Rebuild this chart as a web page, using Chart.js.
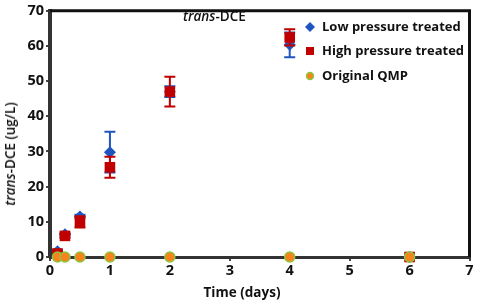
<!DOCTYPE html>
<html>
<head>
<meta charset="utf-8">
<script src="https://cdn.jsdelivr.net/npm/chart.js@4"></script>
<style>
  body { margin: 0; background: #fff; }
  #wrap { position: relative; width: 477px; height: 302px; font-family: "Open Sans", sans-serif; color: #111; }
  .lbl { position: absolute; white-space: nowrap; }
  #topTitle { left: 183px; top: 7px; font-size: 13.5px; font-weight: 600; }
  #yTitle { left: 10px; top: 154px; font-size: 13.5px; font-weight: 600; transform: translate(-50%, -50%) rotate(-90deg); }
  #xTitle { left: 242px; top: 292px; font-size: 13.5px; font-weight: bold; transform: translate(-50%, -50%); }
</style>
</head>
<body>
<div id="wrap">
  <canvas id="myChart" width="477" height="302"></canvas>
  <div class="lbl" id="topTitle"><i>trans</i>-DCE</div>
  <div class="lbl" id="yTitle"><i>trans</i>-DCE (ug/L)</div>
  <div class="lbl" id="xTitle">Time (days)</div>
</div>
<script>
// data
let days = [0.125, 0.25, 0.5, 1, 2, 4, 6];
let lowMean = [1.6, 6.5, 11.5, 29.8, 47, 60.3, 0];
let lowErr = [0.4, 0.4, 0.5, 5.8, 1.5, 3.5, 0];
let highMean = [1.0, 6.0, 10.0, 25.5, 47, 62.4, 0];
let highErr = [0.4, 0.5, 1.6, 3.0, 4.2, 2.3, 0];
let qmpMean = [0, 0, 0, 0, 0, 0, 0];
let labels = ["Low pressure treated", "High pressure treated", "Original QMP"];
let xTicks = [0, 1, 2, 3, 4, 5, 6, 7];
let yTicks = [0, 10, 20, 30, 40, 50, 60, 70];

let blue = "#1f55c0", red = "#c00000", orange = "#f7821e", green = "#8dc63f";

function toPoints(ys) {
  return days.map((d, i) => ({ x: d, y: ys[i] }));
}

let errors = [lowErr, highErr, null];
let errColors = [blue, red, null];

// error bars drawn under each dataset's markers
let errorBars = {
  id: "errorBars",
  beforeDatasetDraw(chart, args) {
    let err = errors[args.index];
    if (!err) return;
    let ctx = chart.ctx, xs = chart.scales.x, ys = chart.scales.y;
    let data = chart.data.datasets[args.index].data;
    ctx.save();
    ctx.strokeStyle = errColors[args.index];
    ctx.lineWidth = 2;
    data.forEach((p, i) => {
      if (!err[i]) return;
      let px = xs.getPixelForValue(p.x);
      let top = ys.getPixelForValue(p.y + err[i]);
      let bot = ys.getPixelForValue(p.y - err[i]);
      ctx.beginPath();
      ctx.moveTo(px, top); ctx.lineTo(px, bot);
      ctx.moveTo(px - 5.5, top); ctx.lineTo(px + 5.5, top);
      ctx.moveTo(px - 5.5, bot); ctx.lineTo(px + 5.5, bot);
      ctx.stroke();
    });
    ctx.restore();
  }
};

// frame on top and right plus the legend box contents
let frameLegend = {
  id: "frameLegend",
  afterDraw(chart) {
    let ctx = chart.ctx, a = chart.chartArea;
    ctx.save();
    ctx.strokeStyle = "#111";
    ctx.lineWidth = 3;
    ctx.beginPath();
    ctx.moveTo(a.left, a.top); ctx.lineTo(a.right, a.top); ctx.lineTo(a.right, a.bottom);
    ctx.stroke();

    let lx = 310, rows = [27, 51, 76];
    ctx.fillStyle = blue;
    ctx.beginPath();
    ctx.moveTo(lx, rows[0] - 5); ctx.lineTo(lx + 5, rows[0]); ctx.lineTo(lx, rows[0] + 5); ctx.lineTo(lx - 5, rows[0]);
    ctx.closePath(); ctx.fill();
    ctx.fillStyle = red;
    ctx.fillRect(lx - 4, rows[1] - 4, 8, 8);
    ctx.beginPath();
    ctx.arc(lx, rows[2], 3.5, 0, Math.PI * 2);
    ctx.fillStyle = orange; ctx.fill();
    ctx.lineWidth = 1.5; ctx.strokeStyle = green; ctx.stroke();

    ctx.fillStyle = "#111";
    ctx.font = "bold 13px 'Open Sans'";
    ctx.textBaseline = "middle";
    labels.forEach((t, i) => ctx.fillText(t, 322, rows[i]));
    ctx.restore();
  }
};

let ctx = document.getElementById("myChart").getContext("2d");
let myChart = new Chart(ctx, {
  type: "scatter",
  data: {
    datasets: [
      {
        label: labels[0],
        data: toPoints(lowMean),
        order: 3,
        pointStyle: "rectRot",
        pointRadius: 6,
        backgroundColor: blue,
        borderColor: blue,
        borderWidth: 0,
        clip: false,
      },
      {
        label: labels[1],
        data: toPoints(highMean),
        order: 2,
        pointStyle: "rect",
        pointRadius: 7.5,
        backgroundColor: red,
        borderColor: red,
        borderWidth: 0,
        clip: false,
      },
      {
        label: labels[2],
        data: toPoints(qmpMean),
        order: 1,
        pointStyle: "circle",
        pointRadius: 5,
        backgroundColor: orange,
        borderColor: green,
        borderWidth: 1.5,
        clip: false,
      },
    ],
  },
  options: {
    responsive: false,
    animation: false,
    layout: { padding: { top: 7, right: 5, left: 0, bottom: 0 } },
    plugins: { legend: { display: false }, tooltip: { enabled: false } },
    scales: {
      x: {
        type: "linear",
        min: 0,
        max: 7,
        afterBuildTicks: (s) => { s.ticks = xTicks.map((v) => ({ value: v })); },
        afterFit: (s) => { s.height = 45; },
        grid: { drawOnChartArea: false, drawTicks: true, tickLength: 4, color: "#444", lineWidth: 2 },
        border: { display: true, color: "#333", width: 3 },
        ticks: { color: "#111", font: { family: "Open Sans", size: 14.5, weight: "bold" }, padding: 1 },
      },
      y: {
        min: 0,
        max: 70,
        afterBuildTicks: (s) => { s.ticks = yTicks.map((v) => ({ value: v })); },
        afterFit: (s) => { s.width = 50; },
        grid: { drawOnChartArea: false, drawTicks: true, tickLength: 4, color: "#444", lineWidth: 2 },
        border: { display: true, color: "#333", width: 4 },
        ticks: { color: "#111", font: { family: "Open Sans", size: 14.5, weight: "bold" }, padding: 2 },
      },
    },
  },
  plugins: [errorBars, frameLegend],
});
</script>
</body>
</html>
